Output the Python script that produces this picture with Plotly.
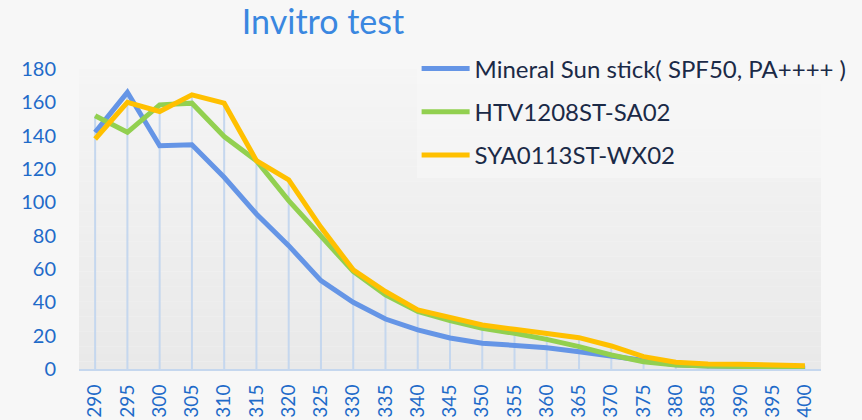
import plotly.graph_objects as go

# Wavelength (nm) categories and absorbance readings for each sample
wavelengths = ["290", "295", "300", "305", "310", "315", "320", "325", "330", "335", "340", "345",
               "350", "355", "360", "365", "370", "375", "380", "385", "390", "395", "400"]

mineral_sun_stick = [142, 166, 134, 134.5, 115, 93, 74, 53, 40, 30, 23.5, 18.6,
                     15.5, 14.2, 12.8, 10.4, 7.8, 5.2, 2.6, 1.8, 1.5, 1.2, 1.0]
htv1208st_sa02 = [152, 142, 158.5, 159.5, 139.5, 125, 101, 80, 58.5, 44.5, 34.5, 29,
                  24.4, 21.4, 17.8, 13.4, 8.4, 4.4, 2.4, 1.8, 1.5, 1.2, 1.0]
sya0113st_wx02 = [138, 160, 154.5, 164.5, 159.5, 125, 113.5, 85, 59.5, 46.5, 35.5, 31,
                  26.4, 23.8, 21.6, 18.8, 13.8, 7.4, 4.0, 3.0, 2.8, 2.5, 2.0]

series_names = ["Mineral Sun stick( SPF50, PA++++ )", "HTV1208ST-SA02", "SYA0113ST-WX02"]
series_values = [mineral_sun_stick, htv1208st_sa02, sya0113st_wx02]
series_colors = ["#6595e6", "#92d050", "#ffc000"]

y_ticks = [0, 20, 40, 60, 80, 100, 120, 140, 160, 180]

TICK_BLUE = "#1f6bc9"
FONT = "Lato, 'Open Sans', sans-serif"

fig = go.Figure()

# Drop lines from the highest reading down to the axis at each wavelength
drop_x, drop_y = [], []
for i, wl in enumerate(wavelengths):
    top = max(s[i] for s in series_values)
    drop_x += [wl, wl, None]
    drop_y += [0, top, None]
fig.add_trace(go.Scatter(x=drop_x, y=drop_y, mode="lines",
                         line=dict(color="#c5d7ee", width=2),
                         showlegend=False, hoverinfo="skip"))

for k, (name, vals, col) in enumerate(zip(series_names, series_values, series_colors)):
    fig.add_trace(go.Scatter(x=wavelengths, y=vals, mode="lines", name=name,
                             legendgroup=f"g{k}",
                             line=dict(color=col, width=5, shape="linear")))

# Soft vertical gradient in the plotting area
n_bands = 40
top_c = (0xf5, 0xf5, 0xf5)
bot_c = (0xe9, 0xe9, 0xe9)
for b in range(n_bands):
    t = (b + 0.5) / n_bands
    c = tuple(round(top_c[j] + (bot_c[j] - top_c[j]) * t) for j in range(3))
    fig.add_shape(type="rect", xref="paper", yref="paper",
                  x0=0, x1=1, y0=1 - (b + 1) / n_bands, y1=1 - b / n_bands,
                  fillcolor="rgb(%d,%d,%d)" % c, line=dict(width=0), layer="below")

fig.update_layout(
    width=862, height=420,
    margin=dict(l=79, r=41, t=69, b=51, autoexpand=False),
    paper_bgcolor="#f7f7f7",
    plot_bgcolor="rgba(0,0,0,0)",
    font=dict(family=FONT),
    title=dict(text="Invitro test", x=323 / 862, xanchor="center", y=1 - 22 / 420, yanchor="middle",
               font=dict(family=FONT, size=34, color="#3a87e0")),
    showlegend=True,
    legend=dict(x=0.455, y=1.075, xanchor="left", yanchor="top",
                bgcolor="rgba(247,247,247,0.55)",
                font=dict(family=FONT, size=24, color="#1b2a47"),
                itemwidth=48,
                tracegroupgap=9, traceorder="grouped"),
)

fig.update_xaxes(type="category", range=[-0.5, len(wavelengths) - 0.5],
                 showgrid=False, zeroline=False, automargin=False,
                 showline=True, linecolor="#c5d7ee", linewidth=2,
                 ticks="", tickangle=-90, ticklabelstandoff=6,
                 tickfont=dict(family=FONT, size=19, color=TICK_BLUE))
fig.update_yaxes(range=[0, 180], tickvals=y_ticks, showgrid=False, zeroline=False,
                 showline=False, ticks="", ticklabelstandoff=22, automargin=False,
                 tickfont=dict(family=FONT, size=20, color=TICK_BLUE))

fig.write_html("out.html")
